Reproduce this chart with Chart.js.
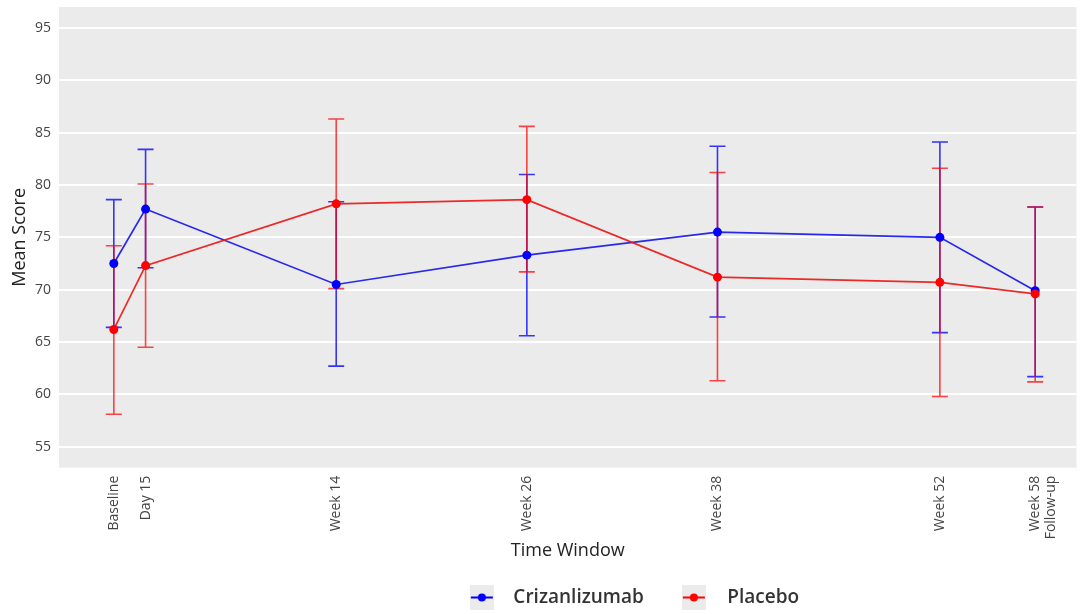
<!DOCTYPE html>
<html>
<head>
<meta charset="utf-8">
<script src="https://cdn.jsdelivr.net/npm/chart.js@4"></script>
<style>
  html, body { margin: 0; padding: 0; background: #fff; }
</style>
</head>
<body>
<canvas id="chart" width="1081" height="614"></canvas>
<script>
// time windows (x in weeks from baseline)
const timeLabels = ["Baseline", "Day 15", "Week 14", "Week 26", "Week 38", "Week 52", ["Week 58", "Follow-up"]];
const timeWeeks = [0, 2, 14, 26, 38, 52, 58];
const yTicks = [55, 60, 65, 70, 75, 80, 85, 90, 95];

const crizMean = [72.5, 77.7, 70.5, 73.3, 75.5, 75.0, 69.9];
const crizLow  = [66.4, 72.1, 62.7, 65.6, 67.4, 65.9, 61.7];
const crizHigh = [78.6, 83.4, 78.4, 81.0, 83.7, 84.1, 77.9];

const placMean = [66.2, 72.3, 78.2, 78.6, 71.2, 70.7, 69.6];
const placLow  = [58.1, 64.5, 70.1, 71.7, 61.3, 59.8, 61.2];
const placHigh = [74.2, 80.1, 86.3, 85.6, 81.2, 81.6, 77.9];

const ICON_W = 68

// legend marker: grey square with line + dot, sitting at offset ox inside a wider transparent image
function legendIcon(color, ox) {
  const c = document.createElement('canvas')
  c.width = ICON_W; c.height = 25
  const g = c.getContext('2d')
  g.fillStyle = '#ebebeb'
  g.fillRect(ox, 0, 24, 25)
  g.strokeStyle = color
  g.lineWidth = 2
  g.beginPath(); g.moveTo(ox + 1, 12.5); g.lineTo(ox + 23, 12.5); g.stroke()
  g.fillStyle = color
  g.beginPath(); g.arc(ox + 12, 12.5, 4, 0, Math.PI * 2); g.fill()
  return c
}

// grey panel behind the plot
const panelBg = {
  id: 'panelBg',
  beforeDraw(chart) {
    const { ctx, chartArea: a } = chart
    ctx.save()
    ctx.fillStyle = '#ebebeb'
    ctx.fillRect(a.left, a.top, a.right - a.left, a.bottom - a.top)
    ctx.restore()
  }
}

// legend sits a bit right of the canvas centre
const legendShift = {
  id: 'legendShift',
  afterLayout(chart) {
    if (!chart.legend) return
    chart.legend.left += 77
    chart.legend.right += 77
  }
}

// vertical error bars with caps
const errorBars = {
  id: 'errorBars',
  beforeDatasetsDraw(chart) {
    const { ctx, scales: { x, y } } = chart
    chart.data.datasets.forEach((ds, i) => {
      if (!chart.isDatasetVisible(i)) return
      ctx.save()
      ctx.strokeStyle = ds.errColor
      ctx.lineWidth = 1.6
      ds.data.forEach((p, j) => {
        const px = x.getPixelForValue(p.x)
        const top = y.getPixelForValue(ds.errHigh[j])
        const bot = y.getPixelForValue(ds.errLow[j])
        ctx.beginPath()
        ctx.moveTo(px, top); ctx.lineTo(px, bot)
        ctx.moveTo(px - 8, top); ctx.lineTo(px + 8, top)
        ctx.moveTo(px - 8, bot); ctx.lineTo(px + 8, bot)
        ctx.stroke()
      })
      ctx.restore()
    })
  }
}

new Chart(document.getElementById('chart'), {
  type: 'line',
  data: {
    datasets: [
      {
        label: 'Crizanlizumab',
        data: timeWeeks.map((w, i) => ({ x: w, y: crizMean[i] })),
        errLow: crizLow,
        errHigh: crizHigh,
        errColor: 'rgba(0, 0, 255, 0.78)',
        legendIcon: legendIcon('#0000ff', 34),
        borderColor: 'rgba(20, 20, 235, 0.9)',
        backgroundColor: '#0000ff',
        pointBackgroundColor: '#0000ff',
        pointBorderWidth: 0,
        pointRadius: 4.5,
        borderWidth: 1.7,
        order: 1
      },
      {
        label: 'Placebo',
        data: timeWeeks.map((w, i) => ({ x: w, y: placMean[i] })),
        errLow: placLow,
        errHigh: placHigh,
        errColor: 'rgba(255, 0, 0, 0.72)',
        legendIcon: legendIcon('#ff0000', 32),
        borderColor: 'rgba(235, 20, 20, 0.9)',
        backgroundColor: '#ff0000',
        pointBackgroundColor: '#ff0000',
        pointBorderWidth: 0,
        pointRadius: 4.5,
        borderWidth: 1.7,
        order: 0
      }
    ]
  },
  options: {
    responsive: false,
    animation: false,
    layout: { padding: { top: 7, right: 0, bottom: -3, left: 0 } },
    scales: {
      x: {
        type: 'linear',
        min: -3.45,
        max: 60.6,
        afterBuildTicks: s => { s.ticks = timeWeeks.map(v => ({ value: v })) },
        afterFit: s => { s.height = 114.3; s.paddingLeft = 0; s.paddingRight = 0 },
        grid: { display: false, drawTicks: false },
        border: { display: false },
        ticks: {
          autoSkip: false,
          maxRotation: 90,
          minRotation: 90,
          padding: 8,
          color: '#444',
          font: { family: 'Open Sans', size: 14, lineHeight: 1.1 },
          callback: (v, i) => timeLabels[i]
        },
        title: {
          display: true,
          text: 'Time Window',
          color: '#222',
          font: { family: 'Open Sans', size: 18 },
          padding: { top: 0, bottom: 20 }
        }
      },
      y: {
        min: 53,
        max: 97,
        afterBuildTicks: s => { s.ticks = yTicks.map(v => ({ value: v })) },
        afterFit: s => { s.width = 59; s.paddingTop = 0; s.paddingBottom = 0 },
        grid: { color: '#ffffff', lineWidth: 2, drawTicks: false },
        border: { display: false },
        ticks: {
          padding: 8,
          color: '#444',
          font: { family: 'Open Sans', size: 14 }
        },
        title: {
          display: true,
          text: 'Mean Score',
          color: '#222',
          font: { family: 'Open Sans', size: 18 },
          padding: { top: 9, bottom: 0 }
        }
      }
    },
    plugins: {
      tooltip: { enabled: false },
      legend: {
        position: 'bottom',
        labels: {
          usePointStyle: true,
          pointStyleWidth: ICON_W,
          padding: 6,
          color: '#333',
          font: { family: 'Open Sans', size: 19, weight: '600' },
          generateLabels: chart => chart.data.datasets.map((ds, i) => ({
            text: ds.label,
            pointStyle: ds.legendIcon,
            datasetIndex: i,
            hidden: !chart.isDatasetVisible(i),
            fontColor: '#333',
            lineWidth: 0,
            strokeStyle: 'rgba(0,0,0,0)',
            fillStyle: 'rgba(0,0,0,0)'
          }))
        }
      }
    }
  },
  plugins: [panelBg, legendShift, errorBars]
})
</script>
</body>
</html>
